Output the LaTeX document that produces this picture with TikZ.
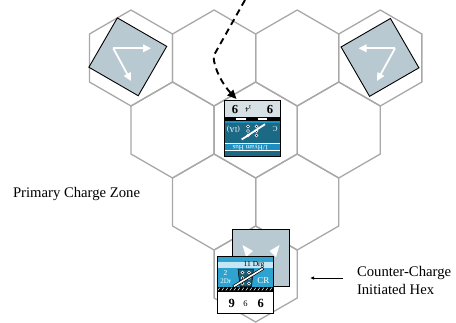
\documentclass[tikz,border=0pt]{standalone}
\usepackage{fontspec}
\setmainfont{Liberation Serif}
\usetikzlibrary{arrows.meta}
\definecolor{hexgray}{HTML}{A8A8A8}
\definecolor{tilefill}{HTML}{B9C9D1}
\definecolor{cblue}{HTML}{2EA3CF}
\definecolor{clight}{HTML}{C6E6F3}
\definecolor{cdark}{HTML}{1C6985}
\definecolor{cmid}{HTML}{1A8FC0}
\definecolor{cgray}{HTML}{D7E0E4}
\definecolor{csym}{HTML}{1B5A72}
\tikzset{
  hexline/.style={draw=hexgray, line width=1.3pt, line join=miter},
  tile/.style={draw=black, fill=tilefill, line width=0.9pt, minimum size=57pt, inner sep=0pt, outer sep=0pt},
  warrow/.style={white, line width=1.8pt, -{Triangle[length=8pt,width=7.5pt]}},
  dasharrow/.style={black, line width=1.9pt, dash pattern=on 6.5pt off 4.5pt, -{Triangle[length=9pt,width=8pt]}},
  lbl/.style={font=\fontsize{14.7}{18.5}\selectfont, inner sep=0pt, outer sep=0pt},
  ctxt/.style={inner sep=0pt, outer sep=0pt},
  cborder/.style={draw=black, line width=0.8pt},
  circ/.style={draw=white, fill=black, line width=0.5pt},
}
\begin{document}
\begin{tikzpicture}[x=1pt,y=-1pt]
\useasboundingbox (0,0) rectangle (456,322);
% hex grid
\foreach \cx/\cy in {131/58, 214.1/58, 297.2/58, 380.3/58, 172.55/130, 255.65/130, 338.75/130, 214.1/202, 297.2/202, 255.65/274}
  \draw[hexline] (\cx,\cy-48) -- (\cx+41.55,\cy-24) -- (\cx+41.55,\cy+24) -- (\cx,\cy+48) -- (\cx-41.55,\cy+24) -- (\cx-41.55,\cy-24) -- cycle;

% top-left tile
\node[tile, rotate=-30] (sqL) at (127.8,56.8) {};
\coordinate (aL) at (113.3,48.3);
\coordinate (aL1) at (151,48.3);
\coordinate (aL2) at (131,81);
\draw[warrow] (aL) -- (aL1);
\draw[warrow] (aL) -- (aL2);

% top-right tile
\node[tile, rotate=30] (sqR) at (380,57.4) {};
\coordinate (aR) at (395,48.3);
\coordinate (aR1) at (358.5,48.3);
\coordinate (aR2) at (377,81);
\draw[warrow] (aR) -- (aR1);
\draw[warrow] (aR) -- (aR2);

% back tile at bottom
\node[tile] (sqB) at (260.5,258.4) {};
\fill[white] (242.5,245) -- (253,251) -- (246,257) -- cycle;
\fill[white] (279.5,245) -- (269.5,251) -- (276,257) -- cycle;

% front counter (bottom)
\begin{scope}[shift={(217,256.5)}]
  \fill[cblue] (0,0) rectangle (56.5,30);
  \fill[clight] (0,5) rectangle (56.5,11.5);
  \fill[black] (0,30) rectangle (56.5,35);
  \foreach \i in {0,...,13}
    \draw[white, line width=0.5pt] (\i*4+0.8,34) -- (\i*4+2.8,31.2);
  \fill[white] (0,35) rectangle (56.5,56.5);
  \filldraw[fill=csym, draw=black, line width=0.5pt] (21,12.5) -- (36.5,12.5) -- (34.5,30) -- (23,30) -- cycle;
  \foreach \px in {25.5,32}
    \foreach \py in {16,21.5,27}
      \draw[circ] (\px,\py) circle (1.5);
  \draw[black, line width=3pt] (16.3,30.2) -- (46.3,11.8);
  \draw[white, line width=1.6pt] (16.9,29.8) -- (45.7,12.2);
  \node[ctxt, font=\fontsize{7.5}{7.5}\selectfont] (bdrg) at (37,8.3) {11 Drg};
  \node[ctxt, white, font=\fontsize{7.5}{7.5}\selectfont] (btwo) at (8.5,16.8) {2};
  \node[ctxt, white, font=\fontsize{7}{7}\selectfont] (bdr) at (8.8,24.5) {2Dr};
  \node[ctxt, white, font=\fontsize{9}{9}\selectfont] (bcr) at (46.3,24) {CR};
  \node[ctxt, anchor=base, font=\bfseries\fontsize{12.5}{12.5}\selectfont] (bn1) at (14.7,50.8) {9};
  \node[ctxt, anchor=base, font=\fontsize{8.5}{8.5}\selectfont] (bn2) at (28.5,50) {6};
  \node[ctxt, anchor=base, font=\bfseries\fontsize{12.5}{12.5}\selectfont] (bn3) at (43.8,50.8) {6};
  \draw[cborder] (0,0) rectangle (56.5,56.5);
\end{scope}

% centre counter (upside down)
\fill[cgray] (224,100) rectangle (280.5,116.5);
\fill[black] (224,116.5) rectangle (280.5,121);
\fill[white] (236,117.5) rectangle (246,119.8);
\fill[white] (258,117.5) rectangle (267,119.8);
\fill[cmid] (224,121) rectangle (280.5,122.5);
\fill[cdark] (224,122.5) rectangle (280.5,156.5);
\fill[cmid] (224,143.3) rectangle (280.5,149.8);
\draw[white, line width=0.5pt] (224,143.1) -- (280.5,143.1);
\draw[white, line width=0.5pt] (224,150.1) -- (280.5,150.1);
\foreach \px in {248,256.5}
  \foreach \py in {126.5,131,135.5}
    \draw[circ] (\px,\py) circle (1.5);
\draw[white, line width=1.8pt] (241.7,139.5) -- (265,124.2);
\node[ctxt, rotate=180, font=\bfseries\fontsize{12.5}{12.5}\selectfont] (cn1) at (235,109.2) {9};
\node[ctxt, rotate=180, font=\fontsize{7}{7}\selectfont] (cn2) at (248.3,108.7) {\raisebox{-1.5pt}{\fontsize{5}{5}\selectfont 3}4};
\node[ctxt, rotate=180, font=\bfseries\fontsize{12.5}{12.5}\selectfont] (cn3) at (270,109.2) {9};
\node[ctxt, rotate=180, white, font=\fontsize{7.5}{7.5}\selectfont] (cia) at (233.3,129.2) {(IA)};
\node[ctxt, rotate=180, white, font=\fontsize{7.5}{7.5}\selectfont] (cc) at (275,129.2) {C};
\node[ctxt, rotate=180, white, font=\fontsize{7}{7}\selectfont] (cname) at (250.5,146.6) {1/Hyam Hus};
\draw[cborder] (224,100) rectangle (280.5,156.5);

% dashed approach arrow
\coordinate (dsA) at (245,0);
\coordinate (dsB) at (213.5,56);
\coordinate (dsC) at (236.5,99);
\draw[dasharrow] (dsA) -- (dsB) .. controls (214,70) and (224,86) .. (dsC);

% labels
\node[lbl, anchor=base west] (pcz) at (13,197) {Primary Charge Zone};
\node[lbl, anchor=north west, align=left] (cch) at (357,266) {Counter-Charge\\Initiated Hex};
\coordinate (ccA) at (343,278);
\coordinate (ccB) at (310,278);
\draw[black, line width=0.9pt, -{Latex[length=4pt,width=3.5pt]}] (ccA) -- (ccB);
\end{tikzpicture}
\end{document}
